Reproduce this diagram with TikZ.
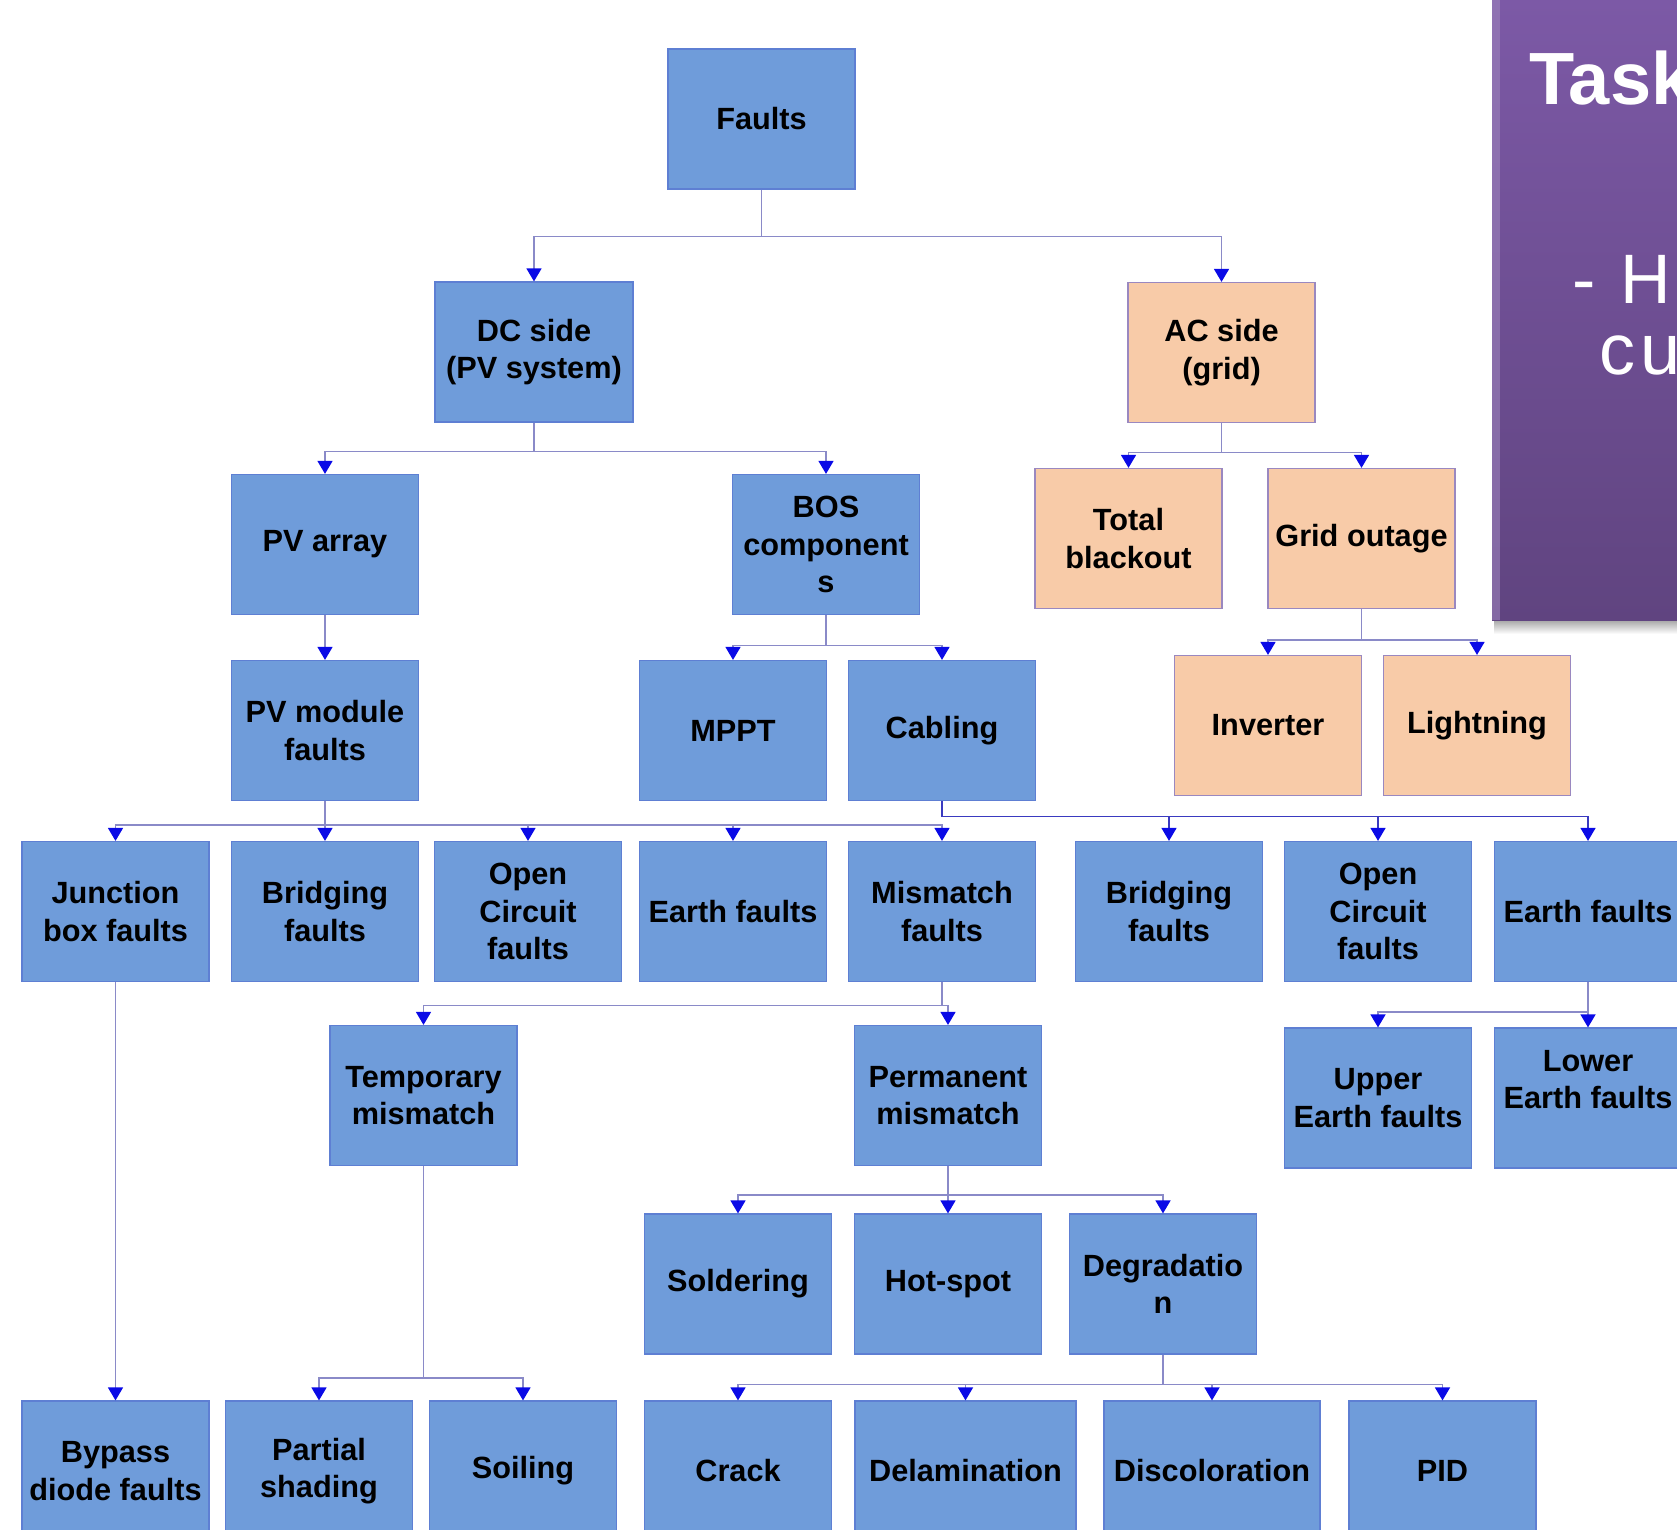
\documentclass[tikz,border=0pt]{standalone}
\usepackage{fontspec}
\setmainfont{Liberation Sans}
\newfontfamily\panelfont[LetterSpace=8]{Liberation Sans}
\usepackage{tikz}
\usetikzlibrary{arrows.meta,positioning}

\definecolor{boxblue}{HTML}{6F9CDA}
\definecolor{boxline}{HTML}{5E7FD3}
\definecolor{acfill}{HTML}{F8CBA8}
\definecolor{acline}{HTML}{9A88C0}
\definecolor{treeline}{HTML}{8A8AC8}
\definecolor{cableline}{HTML}{3A3AC0}
\definecolor{tipblue}{HTML}{0A0AE6}
\definecolor{paneltop}{HTML}{7C59A6}
\definecolor{panelbot}{HTML}{604480}

\tikzset{
fault/.style={draw=boxline, fill=boxblue, line width=1.2pt,
  minimum width=187pt, minimum height=140pt, inner sep=0pt,
  align=center, font=\bfseries\fontsize{30.7}{37.4}\selectfont},
acbox/.style={fault, draw=acline, fill=acfill},
link/.style={draw=treeline, line width=1.4pt},
busto/.style={to path={(\tikztostart.south) -- ++(0,-#1) -| (\tikztotarget)}}
}

\begin{document}
\begin{tikzpicture}[%
>={Triangle[width=15pt,length=13pt,color=tipblue]},
on grid,
x=1pt, y=1pt
]
\useasboundingbox (0,0) rectangle (1677,-1529);

% slide panel on the right
\shade[top color=black!40, bottom color=white] (1494,-618) rectangle (1677,-634);
\shade[top color=paneltop, bottom color=panelbot] (1492,0) rectangle (1677,-620);
\fill[paneltop!75!white, opacity=0.6] (1492,0) rectangle (1500,-620);
\node[anchor=base west, inner sep=0pt, text=white,
  font=\bfseries\fontsize{74}{80}\selectfont] (task) at (1529,-104) {Task};
\node[anchor=base west, inner sep=0pt, text=white,
  font=\panelfont\fontsize{70}{76}\selectfont] (taskH) at (1572,-303) {- H};
\node[anchor=base west, inner sep=0pt, text=white,
  font=\panelfont\fontsize{72}{76}\selectfont] (taskcu) at (1599,-374) {cu};

% tree
\node[fault] (faults) at (761.5,-119) {Faults};
\node[fault, minimum width=198pt] (dc) [below left=233pt and 227.5pt of faults] {DC side\\(PV system)};
\node[acbox] (ac) [below right=233.5pt and 460pt of faults] {AC side\\(grid)};

\node[fault] (pvarray) [below left=192.5pt and 209pt of dc] {PV array};
\node[fault] (bos) [below right=192.5pt and 292pt of dc] {BOS\\component\\s};
\node[acbox] (blackout) [below left=186pt and 93pt of ac] {Total\\blackout};
\node[acbox] (outage) [below right=186pt and 140pt of ac] {Grid outage};

\node[fault] (pvmodule) [below=186pt of pvarray] {PV module\\faults};
\node[fault] (mppt) [below left=186pt and 93pt of bos] {MPPT};
\node[fault] (cabling) [right=209pt of mppt] {Cabling};
\node[acbox] (inverter) [below left=187pt and 93.5pt of outage] {Inverter};
\node[acbox] (lightning) [right=209pt of inverter] {Lightning};

\node[fault] (junction) [below left=181pt and 209.5pt of pvmodule] {Junction\\box faults};
\node[fault] (bridgeA) [below=181pt of pvmodule] {Bridging\\faults};
\node[fault] (openA) [right=203pt of bridgeA] {Open\\Circuit\\faults};
\node[fault] (earthA) [right=205pt of openA] {Earth faults};
\node[fault] (mismatch) [right=209pt of earthA] {Mismatch\\faults};
\node[fault] (bridgeB) [right=227pt of mismatch] {Bridging\\faults};
\node[fault] (openB) [right=209pt of bridgeB] {Open\\Circuit\\faults};
\node[fault] (earthB) [right=210pt of openB] {Earth faults};

\node[fault] (temporary) [below left=184pt and 518.5pt of mismatch] {Temporary\\mismatch};
\node[fault] (permanent) [below right=184pt and 6pt of mismatch] {Permanent\\mismatch};
\node[fault] (upper) [below=186.5pt of openB] {Upper\\Earth faults};
\node[fault] (lower) [right=210pt of upper] {Lower\\Earth faults\\\mbox{}};

\node[fault] (soldering) [below left=188.5pt and 210pt of permanent] {Soldering};
\node[fault] (hotspot) [below=188.5pt of permanent] {Hot-spot};
\node[fault] (degradation) [right=215pt of hotspot] {Degradatio\\n};

\node[fault] (bypass) [below=559.5pt of junction] {Bypass\\diode faults};
\node[fault] (partial) [below left=375.5pt and 104.5pt of temporary] {Partial\\shading};
\node[fault] (soiling) [right=204pt of partial] {Soiling};
\node[fault] (crack) [below=187pt of soldering] {Crack};
\node[fault, minimum width=221pt] (delam) [right=227.5pt of crack] {Delamination};
\node[fault, minimum width=216pt] (discolor) [right=246.5pt of delam] {Discoloration};
\node[fault] (pid) [right=230.5pt of discolor] {PID};

% buses: parent bottom, across, down to child
\path[->, link] (faults) edge [busto=47pt] (dc)
                (faults) edge [busto=47pt] (ac);
\path[->, link] (dc) edge [busto=29pt] (pvarray)
                (dc) edge [busto=29pt] (bos);
\path[->, link] (ac) edge [busto=29.5pt] (blackout)
                (ac) edge [busto=29.5pt] (outage);
\path[->, link] (pvarray) edge (pvmodule);
\path[->, link] (bos) edge [busto=30.5pt] (mppt)
                (bos) edge [busto=30.5pt] (cabling);
\path[->, link] (outage) edge [busto=31pt] (inverter)
                (outage) edge [busto=31pt] (lightning);

\path[->, link] (pvmodule) edge [busto=24pt] (junction)
                (pvmodule) edge [busto=24pt] (bridgeA)
                (pvmodule) edge [busto=24pt] (openA)
                (pvmodule) edge [busto=24pt] (earthA)
                (pvmodule) edge [busto=24pt] (mismatch);
% cabling bus is darker
\path[->, link, draw=cableline] (cabling) edge [busto=15.5pt] (bridgeB)
                (cabling) edge [busto=15.5pt] (openB)
                (cabling) edge [busto=15.5pt] (earthB);

\path[->, link] (mismatch) edge [busto=23.5pt] (temporary)
                (mismatch) edge [busto=23.5pt] (permanent);
\path[->, link] (earthB) edge [busto=30pt] (upper)
                (earthB) edge [busto=30pt] (lower);
\path[->, link] (junction) edge (bypass);
\path[->, link] (temporary) edge [busto=212pt] (partial)
                (temporary) edge [busto=212pt] (soiling);
\path[->, link] (permanent) edge [busto=29pt] (soldering)
                (permanent) edge [busto=29pt] (hotspot)
                (permanent) edge [busto=29pt] (degradation);
\path[->, link] (degradation) edge [busto=30pt] (crack)
                (degradation) edge [busto=30pt] (delam)
                (degradation) edge [busto=30pt] (discolor)
                (degradation) edge [busto=30pt] (pid);
\end{tikzpicture}
\end{document}
